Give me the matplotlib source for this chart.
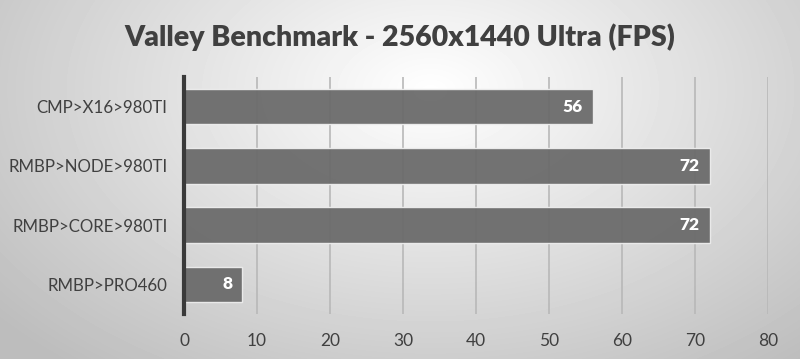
import matplotlib
matplotlib.use("Agg")
import matplotlib.pyplot as plt
import numpy as np

categorias = ["CMP>X16>980TI", "RMBP>NODE>980TI", "RMBP>CORE>980TI", "RMBP>PRO460"]
fps = [56, 72, 72, 8]
rotulos = ["56", "72", "72", "8"]
ticks_x = [0, 10, 20, 30, 40, 50, 60, 70, 80]
titulo = "Valley Benchmark - 2560x1440 Ultra (FPS)"

plt.rcParams["font.family"] = ["Lato", "DejaVu Sans"]
cor_texto = "#404040"

fig = plt.figure(figsize=(8, 3.59), dpi=100)

# fundo com gradiente radial
bg = fig.add_axes([0, 0, 1, 1], zorder=-10)
yy, xx = np.mgrid[0:359, 0:800]
dist = np.sqrt(((xx - 430) / 520.0) ** 2 + ((yy - 90) / 330.0) ** 2)
val = np.clip(1.0 - 0.24 * dist, 0.74, 1.0)
bg.imshow(val, cmap="gray", vmin=0, vmax=1, aspect="auto", extent=[0, 1, 0, 1])
bg.axis("off")

ax = fig.add_axes([0.23, 0.1253, 0.73, 0.66])
ax.patch.set_alpha(0)

y = np.arange(len(categorias))
ax.barh(y, fps, height=0.6, color="#6b6b6b", alpha=0.95,
        edgecolor="#eeeeee", linewidth=1, zorder=3)

for yi, v, r in zip(y, fps, rotulos):
    ax.text(v - 1.4, yi, r, ha="right", va="center", color="white",
            fontsize=12.5, fontweight="heavy", zorder=4)

ax.set_xlim(0, 80)
ax.set_ylim(len(categorias) - 0.5, -0.5)
ax.set_xticks(ticks_x)
ax.set_yticks(y)
ax.set_yticklabels(categorias)
ax.tick_params(axis="both", length=0, colors=cor_texto)
ax.tick_params(axis="x", pad=14, labelsize=12.5)
ax.tick_params(axis="y", pad=12, labelsize=12.2)

ax.grid(axis="x", color="#b8b8b8", linewidth=1.2, zorder=1)
for s in ["top", "right", "bottom"]:
    ax.spines[s].set_visible(False)
ax.spines["left"].set_color("#3a3a3a")
ax.spines["left"].set_linewidth(3)
ax.spines["left"].set_zorder(5)

fig.text(0.5, 0.895, titulo, ha="center", va="center", fontsize=20.5,
         fontweight="heavy", color=cor_texto)

fig.savefig("out.png", dpi=100)
